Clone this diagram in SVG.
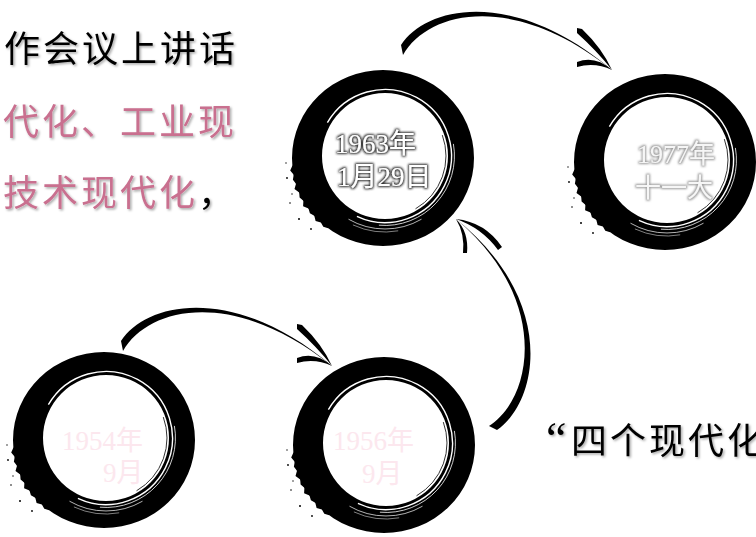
<svg xmlns="http://www.w3.org/2000/svg" xmlns:xlink="http://www.w3.org/1999/xlink" width="756" height="537" viewBox="0 0 756 537">
<style>
.t{font-family:"Liberation Serif","Noto Sans CJK SC",serif;}
.big{font-size:36px;letter-spacing:3px;filter:url(#shadow);}
.blk{fill:#000;}
.pink{fill:#c96f8f;}
.date{font-size:27px;}
.d63{fill:#ffffff;filter:url(#haloDark);}
.d77{fill:#f6f6f6;filter:url(#haloLight);}
.d5x{fill:#fce7ee;}
.ink{fill:#000;}
.ws{fill:none;stroke:#fff;}
.bs{fill:none;stroke:#000;}
</style>
<defs>
<filter id="shadow" x="-10%" y="-20%" width="120%" height="150%">
<feDropShadow dx="1.5" dy="1.5" stdDeviation="1" flood-color="#000" flood-opacity="0.35"/>
</filter>
<filter id="haloDark" x="-20%" y="-30%" width="140%" height="160%">
<feMorphology in="SourceAlpha" operator="dilate" radius="0.6" result="d"/>
<feGaussianBlur in="d" stdDeviation="1.1" result="b"/>
<feFlood flood-color="#2a2a2a"/>
<feComposite in2="b" operator="in" result="s"/>
<feMerge><feMergeNode in="s"/><feMergeNode in="SourceGraphic"/></feMerge>
</filter>
<filter id="haloLight" x="-20%" y="-30%" width="140%" height="160%">
<feMorphology in="SourceAlpha" operator="dilate" radius="0.5" result="d"/>
<feGaussianBlur in="d" stdDeviation="1.1" result="b"/>
<feFlood flood-color="#9a9a9a"/>
<feComposite in2="b" operator="in" result="s"/>
<feMerge><feMergeNode in="s"/><feMergeNode in="SourceGraphic"/></feMerge>
</filter>
<g id="ring">
<path class="ink" fill-rule="evenodd" d="M-91,0 A91,88 0 1,0 91,0 A91,88 0 1,0 -91,0 Z M-61,-2 A63,63 0 1,0 65,-2 A63,63 0 1,0 -61,-2 Z"/>
<path class="ink" d="M-90.65,7.67 L-92.8,12.6 L-89.3,16.8 L-90.1,21.7 L-87,25.7 L-88.5,31.1 L-83.8,34.4 L-83.4,39.4 L-79.6,42.7 L-79.9,48.3 L-74.5,50.5 L-73.1,55.3 L-68.7,57.7 L-67.4,63 L-62.1,64.4 L-59.7,68.8 L-54.8,70.3 L-50,60 L-80,0 Z"/>
<g class="ink">
<circle cx="-96" cy="20" r="0.9"/>
<circle cx="-93" cy="45" r="0.8"/>
<circle cx="-84" cy="61" r="1"/>
<circle cx="-72" cy="71" r="0.9"/>
<circle cx="-97" cy="5" r="0.7"/>
<circle cx="-91" cy="36" r="0.7"/>
</g>
<g transform="translate(2,-2)">
<path class="ws" stroke-width="1.4" d="M-57.6,-33.3 A66.5,66.5 0 1,1 -28.1,60.3"/>
<path class="ws" stroke-width="0.8" d="M68.4,-12.1 A69.5,69.5 0 0,1 -6.1,69.2"/>
<path class="ws" stroke-width="0.7" d="M36.5,63.2 A73,73 0 0,1 -36.5,63.2"/>
<path class="ws" stroke-width="0.5" d="M13.2,74.8 A76,76 0 0,1 -32.1,68.9"/>
<path class="bs" stroke-width="0.8" d="M57.3,-20.9 A61,61 0 0,1 30.5,52.8"/>
</g>
</g>
<g id="arcArrow">
<path class="ink" d="M401,45 C427,5 515,-12 612,70 C515,-8 429,10 403,55 Z"/>
<path class="ink" d="M577,28 L582,29 Q602,48 612,70 Q597,51 577,33 Z"/>
<path class="ink" d="M577,62 Q595,55 612,70 Q595,62 577,67 Z"/>
</g>
</defs>
<rect width="756" height="537" fill="#fff"/>

<g id="intro-text" class="t big">
<text x="4" y="62" class="blk">作会议上讲话</text>
<text x="3" y="135" class="pink">代化、工业现</text>
<text x="3" y="206"><tspan class="pink">技术现代化</tspan><tspan class="blk">，</tspan></text>
</g>

<g id="n1963">
<use xlink:href="#ring" href="#ring" transform="translate(383,158)"/>
<text class="t date d63" x="335" y="153">1963年</text>
<text class="t date d63" x="337" y="186">1月29日</text>
</g>

<g id="n1977">
<use xlink:href="#ring" href="#ring" transform="translate(665,162)"/>
<text class="t d77" font-size="26" x="637" y="163">1977年</text>
<text class="t d77" font-size="26" x="635" y="197">十一大</text>
</g>

<g id="n1954">
<use xlink:href="#ring" href="#ring" transform="translate(104,440)"/>
<text class="t date d5x" x="62" y="450">1954年</text>
<text class="t date d5x" x="103" y="482">9月</text>
</g>

<g id="n1956">
<use xlink:href="#ring" href="#ring" transform="translate(384,445)"/>
<text class="t date d5x" x="333" y="450">1956年</text>
<text class="t date d5x" x="362" y="483">9月</text>
</g>

<g id="connectors">
<use xlink:href="#arcArrow" href="#arcArrow"/>
<use xlink:href="#arcArrow" href="#arcArrow" transform="translate(-280,296)"/>
<path class="ink" d="M497,430 C539,401 557,300 456,219 C552,300 532,399 489,426 Z"/>
<path class="ink" d="M456,219 Q469,232 467,253 L463,253 Q465,234 456,219 Z"/>
<path class="ink" d="M456,219 Q485,222 502,247 L498,250 Q482,228 456,219 Z"/>
</g>

<g id="slogan" class="t big">
<text y="454" class="blk"><tspan x="546" font-size="46">“</tspan><tspan x="571">四个现代化</tspan></text>
</g>
</svg>
